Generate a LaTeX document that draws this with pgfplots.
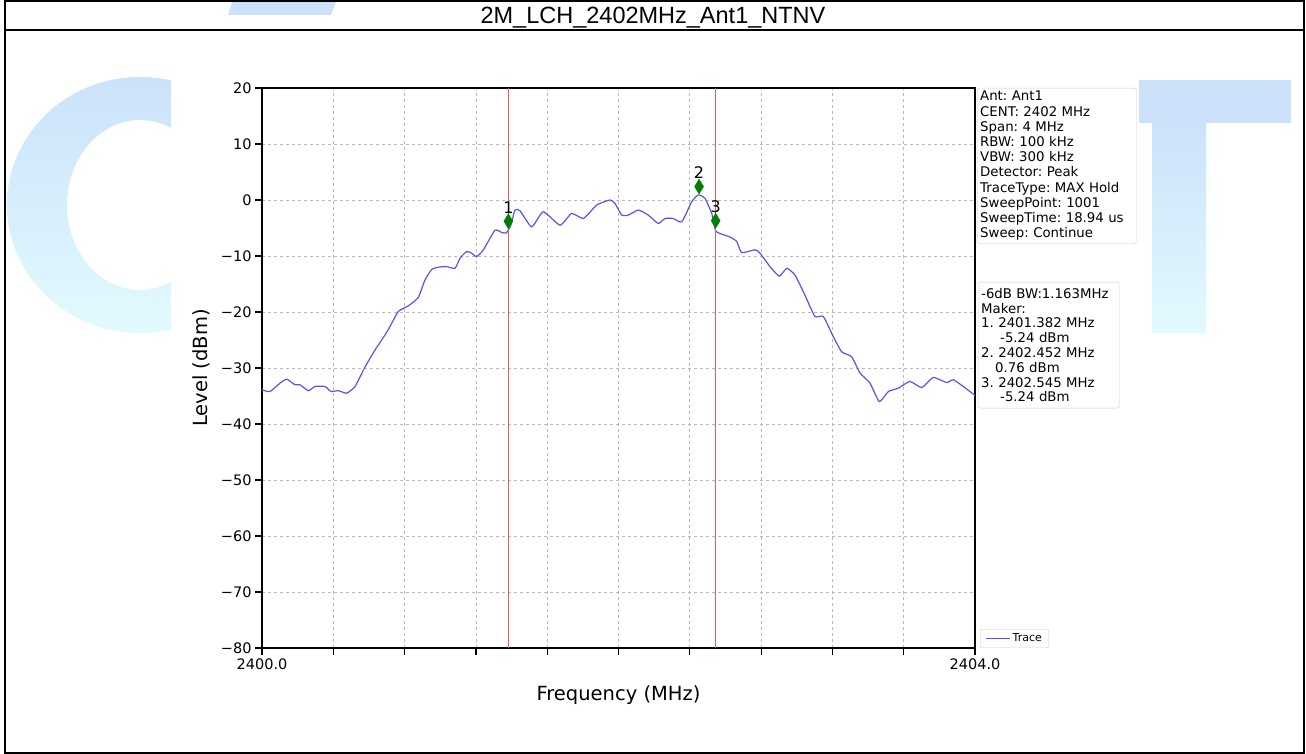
\documentclass[border=0pt]{standalone}
\usepackage{fontspec}
\setmainfont{DejaVu Sans}
\newfontfamily\arialfont{Liberation Sans}
\usepackage{pgfplots}
\pgfplotsset{compat=1.18}
\frenchspacing

\definecolor{tracec}{RGB}{85,85,235}
\definecolor{vline}{RGB}{228,90,90}
\definecolor{mkgreen}{RGB}{0,128,0}
\definecolor{gridc}{RGB}{185,185,185}
\definecolor{boxc}{RGB}{204,204,204}
\definecolor{wmtop}{RGB}{203,226,250}
\definecolor{wmbot}{RGB}{226,250,254}

\begin{document}
\begin{tikzpicture}[x=1pt,y=1pt]
\path[use as bounding box] (0,0) rectangle (1306,754);

% watermark, cut where the chart image covers it
\begin{scope}
  \clip (0,0) rectangle (171,754);
  \shade[top color=wmtop, bottom color=wmbot, even odd rule]
    (140,549) ellipse [x radius=133, y radius=128]
    (140,549) ellipse [x radius=73, y radius=85];
\end{scope}
\begin{scope}
  \clip (1139,0) rectangle (1306,754);
  \fill[wmtop] (1067,631) rectangle (1291,674);
  \shade[top color=wmtop, bottom color=wmbot] (1152,421) rectangle (1206,631);
\end{scope}
\fill[wmtop] (232,752.5) -- (336,752.5) -- (331,739) -- (228,739) -- cycle;

% table frame and title cell
\draw[line width=2pt] (5,1) rectangle (1304,753);
\draw[line width=1.7pt] (5,724) -- (1304,724);
\node[anchor=base, inner sep=0pt, font=\arialfont\fontsize{23.5}{26}\selectfont] at (653,730.5) {2M\_LCH\_2402MHz\_Ant1\_NTNV};

\begin{axis}[
  at={(262pt,106pt)}, anchor=south west,
  scale only axis, width=713pt, height=560pt,
  xmin=2400, xmax=2404, ymin=-80, ymax=20,
  xtick={2400,2400.4,2400.8,2401.2,2401.6,2402,2402.4,2402.8,2403.2,2403.6,2404},
  xticklabels={2400.0,{},{},{},{},{},{},{},{},{},2404.0},
  ytick={-80,-70,-60,-50,-40,-30,-20,-10,0,10,20},
  yticklabels={−80,−70,−60,−50,−40,−30,−20,−10,0,10,20},
  tick pos=left, tick align=outside,
  major tick length=7pt,
  major tick style={line width=1.2pt, black},
  axis line style={line width=1.3pt},
  ticklabel style={font=\fontsize{14.5}{17}\selectfont},
  grid=major,
  major grid style={dash pattern=on 3pt off 3pt, line width=0.8pt, gridc},
  xlabel={Frequency (MHz)},
  ylabel={Level (dBm)},
  label style={font=\fontsize{19.5}{22}\selectfont},
  xlabel style={at={(axis description cs:0.5,-0.0839)}, anchor=center},
  ylabel style={at={(axis description cs:-0.0856,0.5)}, anchor=center},
  legend style={at={(1,0)}, anchor=south west, xshift=5pt,
    draw=boxc, rounded corners=2pt, fill=white,
    font=\fontsize{11}{13}\selectfont, inner xsep=5pt, inner ysep=2.5pt},
  legend cell align=left,
  legend image code/.code={\draw[#1, line width=1.5pt] (0pt,0pt) -- (24pt,0pt);},
]

\addplot[tracec, line width=1.2pt, smooth, tension=0.3] coordinates {
(2400.000,-33.9) (2400.045,-34.2) (2400.101,-32.7) (2400.139,-32.0)
(2400.185,-33.0) (2400.213,-33.0) (2400.260,-34.05) (2400.297,-33.3)
(2400.353,-33.3) (2400.387,-34.2) (2400.428,-34.05) (2400.475,-34.5)
(2400.522,-33.3) (2400.578,-29.8) (2400.634,-26.8) (2400.690,-24.1)
(2400.718,-22.6) (2400.765,-19.9) (2400.821,-18.9) (2400.877,-17.4)
(2400.914,-14.3) (2400.952,-12.4) (2400.989,-12.0) (2401.036,-11.9)
(2401.083,-12.2) (2401.111,-10.4) (2401.148,-9.2) (2401.176,-9.5)
(2401.204,-10.1) (2401.242,-8.9) (2401.307,-5.4) (2401.345,-5.8)
(2401.370,-5.9) (2401.395,-4.6) (2401.419,-1.8) (2401.447,-1.9)
(2401.513,-4.8) (2401.578,-2.1) (2401.672,-4.5) (2401.737,-2.4)
(2401.803,-3.3) (2401.878,-0.9) (2401.952,0.0) (2401.980,-0.6)
(2402.018,-2.7) (2402.055,-2.7) (2402.111,-1.8) (2402.167,-2.7)
(2402.223,-4.2) (2402.261,-3.3) (2402.307,-3.3) (2402.355,-3.9)
(2402.411,-0.3) (2402.448,0.9) (2402.485,0.3) (2402.523,-2.4)
(2402.547,-5.6) (2402.625,-6.6) (2402.663,-7.4) (2402.691,-9.4)
(2402.766,-8.9) (2402.794,-9.5) (2402.850,-11.9) (2402.902,-13.6)
(2402.944,-12.2) (2402.990,-13.4) (2403.046,-17.0) (2403.102,-20.8)
(2403.149,-20.8) (2403.205,-24.4) (2403.252,-27.1) (2403.308,-28.0)
(2403.355,-30.9) (2403.411,-32.7) (2403.463,-36.0) (2403.514,-34.2)
(2403.570,-33.6) (2403.635,-32.4) (2403.701,-33.5) (2403.766,-31.7)
(2403.841,-32.6) (2403.878,-32.1) (2403.934,-33.3) (2404.000,-34.9)
};
\addlegendentry{Trace}

\addplot[vline, line width=1.4pt, forget plot] coordinates {(2401.382,-80) (2401.382,20)};
\addplot[vline, line width=1.4pt, forget plot] coordinates {(2402.545,-80) (2402.545,20)};

\addplot[only marks, mark=diamond*, mark size=7.5pt, mkgreen,
  mark options={draw=mkgreen, fill=mkgreen, xscale=0.8}, forget plot] coordinates {
(2401.382,-3.8) (2402.452,2.4) (2402.545,-3.7)
};

\node[anchor=south, inner sep=0pt, yshift=7.5pt, font=\fontsize{16}{18}\selectfont] at (axis cs:2401.382,-3.8) {1};
\node[anchor=south, inner sep=0pt, yshift=7.5pt, font=\fontsize{16}{18}\selectfont] at (axis cs:2402.452,2.4) {2};
\node[anchor=south, inner sep=0pt, yshift=7.5pt, font=\fontsize{16}{18}\selectfont] at (axis cs:2402.545,-3.7) {3};
\end{axis}

% info boxes to the right of the axis
\node[draw=boxc, rounded corners=2pt, fill=white, anchor=north west,
  inner xsep=3pt, inner ysep=3pt, text width=153pt, align=left,
  font=\fontsize{13.3}{15.2}\selectfont] at (977,666) {%
Ant: Ant1\\CENT: 2402 MHz\\Span: 4 MHz\\RBW: 100 kHz\\VBW: 300 kHz\\Detector: Peak\\TraceType: MAX Hold\\SweepPoint: 1001\\SweepTime: 18.94 us\\Sweep: Continue};

\node[draw=boxc, rounded corners=2pt, fill=white, anchor=north west,
  inner xsep=3pt, inner ysep=6pt, text width=135pt, align=left,
  font=\fontsize{13.3}{14.8}\selectfont] at (978,472) {%
-6dB BW:1.163MHz\\Maker:\\1. 2401.382 MHz\\\hspace*{19pt}-5.24 dBm\\2. 2402.452 MHz\\\hspace*{14pt}0.76 dBm\\3. 2402.545 MHz\\\hspace*{19pt}-5.24 dBm};
\end{tikzpicture}
\end{document}
